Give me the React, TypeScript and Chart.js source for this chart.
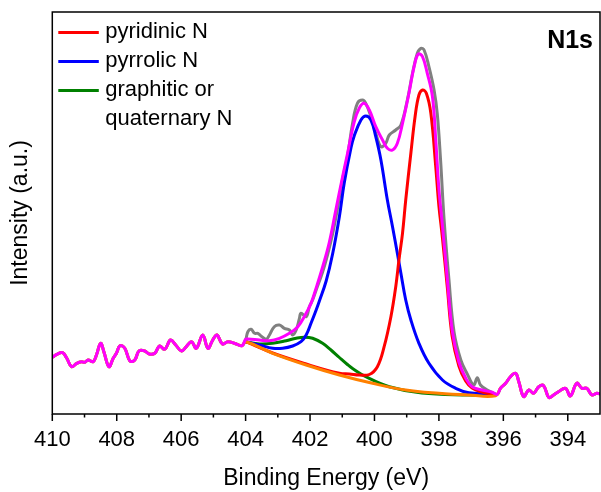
import React, { useEffect, useRef } from "react";
import { Chart, registerables } from "chart.js";

Chart.register(...registerables);

type P = [number, number];

// Binding energy (eV), intensity (a.u.)
const rawLeft: P[] = [
  [410.0, 57], [409.97, 57.3], [409.86, 59.7], [409.68, 61.3], [409.55, 55.7], [409.4, 47.3],
  [409.24, 50.7], [409.09, 52.3], [408.99, 51.7], [408.89, 54], [408.73, 52.3], [408.63, 59],
  [408.5, 70.7], [408.4, 62.3], [408.24, 47.3], [408.11, 55.7], [408.01, 60.7], [407.9, 68.3],
  [407.75, 65.7], [407.59, 53], [407.44, 54], [407.31, 63], [407.13, 63], [406.99, 60],
  [406.82, 60.7], [406.67, 68], [406.51, 64.7], [406.33, 74], [406.17, 69], [405.99, 63],
  [405.84, 67.3], [405.68, 72.3], [405.53, 65.7], [405.33, 79], [405.17, 65.7], [405.02, 74],
  [404.89, 79], [404.72, 70], [404.55, 72.3], [404.29, 70], [404.11, 68.3],
];

const rawRight: P[] = [
  [396.09, 25.7], [395.93, 30.7], [395.78, 37.3], [395.62, 40.7], [395.52, 32.3], [395.37, 17.5],
  [395.21, 24], [395.06, 20.7], [394.9, 27.3], [394.75, 28.3], [394.59, 16.5], [394.44, 19],
  [394.29, 22.3], [394.07, 25.7], [393.92, 18], [393.72, 30.7], [393.56, 25.7], [393.41, 25.7],
  [393.25, 19], [393.1, 20.7], [393.0, 20],
];

const rawFit: P[] = [
  [404.0, 74], [403.93, 82.3], [403.83, 84.7], [403.72, 80.7], [403.62, 80.7], [403.52, 78],
  [403.36, 74.7], [403.26, 79], [403.11, 87.3], [402.95, 89], [402.8, 85.7], [402.64, 84],
  [402.54, 79], [402.43, 84], [402.33, 95.7], [402.28, 100.7], [402.12, 97.3], [402.02, 107.3],
  [401.92, 114], [401.81, 124], [401.61, 142], [401.45, 160], [401.3, 180], [401.15, 205],
  [400.99, 235], [400.84, 257.3], [400.68, 290.7], [400.53, 310.7], [400.37, 314], [400.27, 310.7],
  [400.11, 297.3], [399.96, 280.7], [399.8, 267.3], [399.65, 270.7], [399.54, 279], [399.34, 284],
  [399.18, 289], [398.98, 314], [398.82, 340.7], [398.67, 360.7], [398.56, 365.7], [398.46, 364],
  [398.31, 347.3], [398.15, 324], [398.05, 300], [397.95, 255], [397.84, 195], [397.69, 135],
  [397.53, 82], [397.32, 54], [397.12, 40], [396.92, 29], [396.81, 36.3], [396.71, 29],
  [396.5, 24], [396.35, 21.7], [396.19, 19.7],
];

const envelopeFit: P[] = [
  [404.0, 74.7], [403.93, 75], [403.57, 74], [403.26, 73.3], [402.95, 75.7], [402.64, 80.7],
  [402.38, 87.3], [402.18, 97.3], [401.97, 110.7], [401.81, 126], [401.61, 147], [401.4, 172],
  [401.2, 204], [400.99, 237.3], [400.84, 260], [400.63, 292], [400.47, 306], [400.32, 310.7],
  [400.16, 304], [399.96, 287.3], [399.75, 274], [399.6, 265.7], [399.44, 264], [399.29, 270.7],
  [399.13, 290.7], [398.93, 320.7], [398.77, 347.3], [398.64, 360], [398.51, 357.3], [398.36, 340.7],
  [398.2, 317.3], [398.1, 275], [398.0, 225], [397.89, 188], [397.74, 135], [397.59, 84],
  [397.38, 52], [397.17, 36], [396.97, 27.3], [396.66, 24], [396.35, 21.7], [396.19, 19.7],
];

const backgroundFit: P[] = [
  [404.0, 72.3], [403.16, 60.7], [402.12, 49], [401.09, 39], [400.06, 30.7], [399.03, 24],
  [398.0, 20.7], [397.07, 19], [396.24, 18.3],
];

const pyridinicN: P[] = [
  [404.0, 72.3], [403.16, 61], [402.12, 50], [401.09, 40.7], [400.78, 40], [400.47, 39],
  [400.16, 39.5], [399.91, 47.3], [399.7, 67.3], [399.49, 97.3], [399.34, 127.3], [399.24, 154],
  [399.13, 180.7], [399.03, 214], [398.87, 261], [398.74, 297.3], [398.62, 319], [398.51, 324],
  [398.39, 320.7], [398.25, 300.7], [398.1, 248], [398.0, 208], [397.89, 176], [397.74, 127],
  [397.59, 78], [397.38, 48], [397.17, 33], [396.97, 26], [396.66, 22], [396.24, 19],
];

const pyrrolicN: P[] = [
  [404.0, 72.3], [403.57, 69], [403.16, 65.7], [402.85, 65.7], [402.54, 68], [402.28, 72.3],
  [402.12, 79], [401.97, 90.7], [401.81, 104], [401.71, 113], [401.5, 133], [401.3, 160],
  [401.09, 197.3], [400.94, 230.7], [400.73, 266], [400.63, 278], [400.42, 294], [400.27, 298],
  [400.11, 294], [399.96, 277.3], [399.8, 254], [399.6, 214], [399.44, 187.3], [399.29, 160.7],
  [399.18, 140.7], [399.03, 114], [398.87, 94], [398.62, 70.7], [398.31, 50.7], [397.89, 34],
  [397.48, 25.7], [397.07, 21.3], [396.24, 19.7],
];

const graphiticN: P[] = [
  [404.0, 72.3], [403.57, 70], [403.16, 70.7], [402.74, 73.3], [402.43, 75.7], [402.18, 76.7],
  [401.92, 75.7], [401.61, 70.7], [401.35, 64], [401.09, 56.5], [400.84, 49.5], [400.68, 45.5],
  [400.27, 37.3], [399.54, 27.3], [398.53, 21], [397.07, 19], [396.24, 18.6],
];

const majorTicks = [410, 408, 406, 404, 402, 400, 398, 396, 394];
const minorTicks = [409, 407, 405, 403, 401, 399, 397, 395, 393];

const legendItems = [
  { label: ["pyridinic N"], color: "#ff0000" },
  { label: ["pyrrolic N"], color: "#0000ff" },
  { label: ["graphitic or", "quaternary N"], color: "#008000" },
];
const panelLabel = "N1s";
const xTitle = "Binding Energy (eV)";
const yTitle = "Intensity (a.u.)";

const FONT = "'Liberation Sans', Arial, sans-serif";

const toXY = (pts: P[]) => pts.map(([x, y]) => ({ x, y }));

export default function App() {
  const ref = useRef<HTMLCanvasElement>(null);

  useEffect(() => {
    document.body.style.margin = "0";
    const canvas = ref.current;
    if (!canvas) return;

    const decor = {
      id: "decor",
      afterDraw(chart: any) {
        const { ctx, chartArea } = chart;
        const { left, right, top, bottom } = chartArea;
        const xs = chart.scales.x;
        ctx.save();
        ctx.strokeStyle = "#000";
        ctx.lineWidth = 1.5;
        ctx.strokeRect(left, top, right - left, bottom - top);
        ctx.beginPath();
        majorTicks.forEach((v) => {
          const px = xs.getPixelForValue(v);
          ctx.moveTo(px, bottom);
          ctx.lineTo(px, bottom + 7);
        });
        minorTicks.forEach((v) => {
          const px = xs.getPixelForValue(v);
          if (px > left && px < right) {
            ctx.moveTo(px, bottom);
            ctx.lineTo(px, bottom + 3.5);
          }
        });
        ctx.stroke();

        // legend
        const rowH = 29;
        let y = top + 20;
        ctx.font = `22px ${FONT}`;
        ctx.textBaseline = "middle";
        ctx.textAlign = "left";
        legendItems.forEach((item) => {
          ctx.strokeStyle = item.color;
          ctx.lineWidth = 3;
          ctx.beginPath();
          ctx.moveTo(left + 6, y + 0.5);
          ctx.lineTo(left + 46.5, y + 0.5);
          ctx.stroke();
          ctx.fillStyle = "#000";
          item.label.forEach((line, i) => {
            ctx.fillText(line, left + 53, y + i * rowH);
          });
          y += rowH * item.label.length;
        });

        ctx.font = `bold 25px ${FONT}`;
        ctx.textAlign = "right";
        ctx.fillText(panelLabel, right - 7, top + 29.5);
        ctx.restore();
      },
    };

    const common = {
      pointRadius: 0,
      borderWidth: 3,
      fill: false,
      tension: 0.4,
    };

    const chart = new Chart(canvas, {
      type: "line",
      data: {
        datasets: [
          { ...common, label: "envelope", data: toXY([...rawLeft, ...envelopeFit, ...rawRight]), borderColor: "#ff00ff" },
          { ...common, label: "background", data: toXY([...rawLeft, ...backgroundFit, ...rawRight]), borderColor: "#ff8000" },
          { ...common, label: "pyridinic N", data: toXY(pyridinicN), borderColor: "#ff0000" },
          { ...common, label: "pyrrolic N", data: toXY(pyrrolicN), borderColor: "#0000ff" },
          { ...common, label: "graphitic N", data: toXY(graphiticN), borderColor: "#008000" },
          { ...common, label: "raw", data: toXY([...rawLeft, ...rawFit, ...rawRight]), borderColor: "#808080" },
        ],
      },
      options: {
        responsive: false,
        animation: false,
        devicePixelRatio: 1,
        layout: { padding: { top: 12, right: 1, left: 0, bottom: 0 } },
        plugins: { legend: { display: false }, tooltip: { enabled: false } },
        scales: {
          x: {
            type: "linear",
            reverse: true,
            min: 393,
            max: 410,
            grid: { display: false, drawTicks: false },
            border: { display: false },
            afterBuildTicks: (axis: any) => {
              axis.ticks = majorTicks.map((value) => ({ value }));
            },
            afterFit: (axis: any) => {
              axis.height = 78;
            },
            ticks: {
              autoSkip: false,
              maxRotation: 0,
              padding: 13,
              color: "#000",
              font: { family: FONT, size: 22 },
              callback: (v: any) => String(v),
            },
            title: {
              display: true,
              text: xTitle,
              color: "#000",
              font: { family: FONT, size: 23 },
              padding: { top: 0, bottom: 0 },
            },
          },
          y: {
            type: "linear",
            min: 0,
            max: 402,
            grid: { display: false, drawTicks: false },
            border: { display: false },
            ticks: { display: false },
            afterFit: (axis: any) => {
              axis.width = 52.3;
            },
            title: {
              display: true,
              text: yTitle,
              color: "#000",
              font: { family: FONT, size: 23 },
              padding: { top: 7, bottom: 0 },
            },
          },
        },
      },
      plugins: [decor],
    });

    return () => chart.destroy();
  }, []);

  return (
    <div style={{ width: 601, height: 492, position: "relative" }}>
      <canvas ref={ref} width={601} height={492} style={{ display: "block" }} />
    </div>
  );
}
